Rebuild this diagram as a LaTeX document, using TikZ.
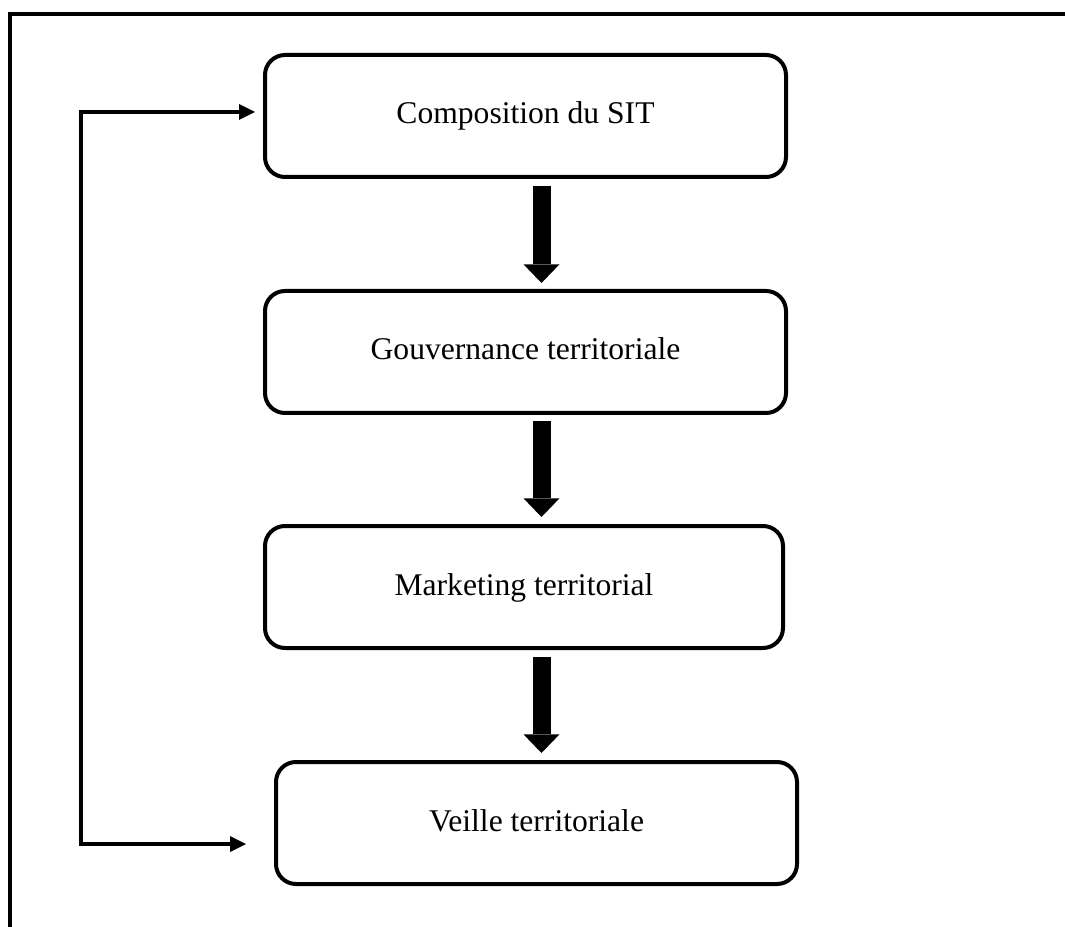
\documentclass[tikz,border=0pt]{standalone}
\usepackage{fontspec}
\setmainfont{Liberation Serif}
\usetikzlibrary{arrows.meta,calc}
\begin{document}
\begin{tikzpicture}[x=0.75pt,y=-0.75pt,
  box/.style={draw, line width=3pt, rounded corners=15pt,
    minimum width=390.75pt, minimum height=91.5pt,
    inner sep=0pt, outer sep=0pt,
    font=\fontsize{23.7}{28}\selectfont, text height=16pt, text depth=4pt},
  frame/.style={line width=3pt},
  fb/.style={line width=2.5pt,
    {Triangle[length=12pt,width=12pt,line width=0pt]}-{Triangle[length=12pt,width=12pt,line width=0pt]}},
  big/.style={line width=13.5pt, -{Triangle[length=14pt,width=27pt,line width=0pt]}}
]
\useasboundingbox (0,0) rectangle (1065,927);
\draw[frame] (10,945) -- (10,14) -- (1085,14);

\node[box] (b1) at (525.5,116) {Composition du SIT};
\node[box] (b2) at (525.5,352) {Gouvernance territoriale};
\node[box, minimum width=388.5pt] (b3) at (524,587) {Marketing territorial};
\node[box] (b4) at (536.5,823) {Veille territoriale};

\coordinate (ax) at (541.5,0);
\draw[big, shorten <=6.75pt, shorten >=6pt] (b1.south -| ax) -- (b2.north -| ax);
\draw[big, shorten <=6pt, shorten >=6.75pt] (b2.south -| ax) -- (b3.north -| ax);
\draw[big, shorten <=6.75pt, shorten >=6.75pt] (b3.south -| ax) -- (b4.north -| ax);

\draw[fb, shorten <=22.5pt, shorten >=7.5pt]
  ([yshift=-15.75pt]b4.west) -- ++(-195,0) |- ([yshift=3pt]b1.west);
\end{tikzpicture}
\end{document}
